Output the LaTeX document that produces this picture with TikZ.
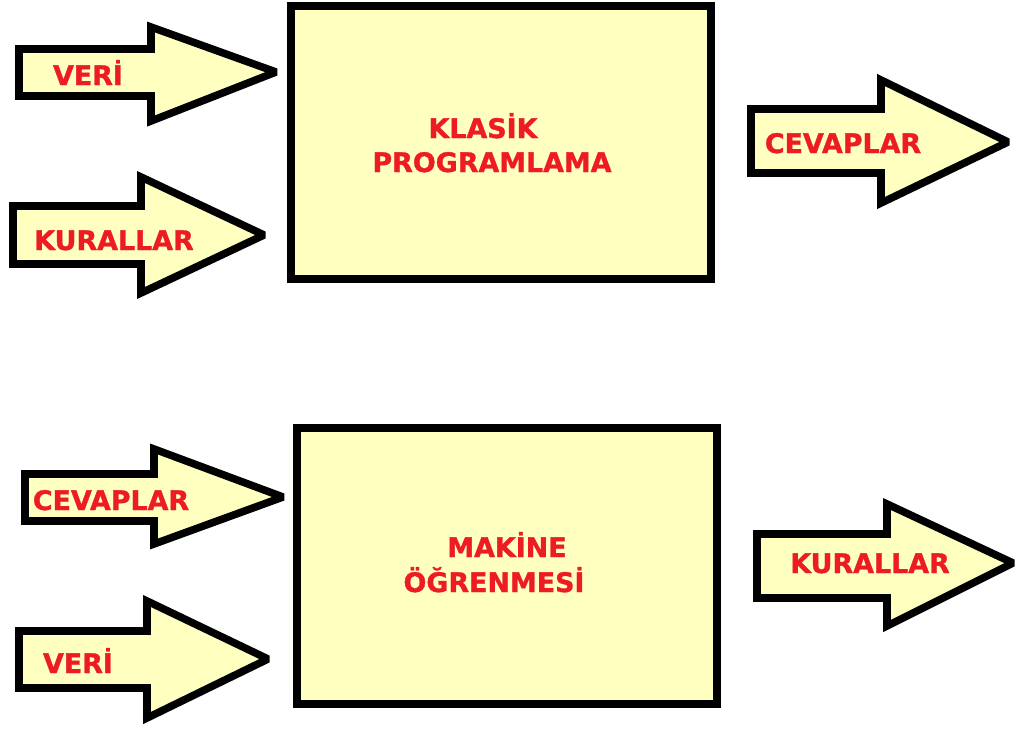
\documentclass[tikz,border=0pt]{standalone}
\usepackage{fontspec}
\setmainfont{DejaVu Sans}
\newfontfamily\labelfont[FakeBold=1.2]{DejaVu Sans Bold}
\definecolor{boxyellow}{RGB}{255,255,192}
\definecolor{labelred}{RGB}{237,28,36}
\tikzset{
  blockarrow/.style={draw=black, fill=boxyellow, line width=4.3pt, line join=miter, miter limit=2},
  bigbox/.style={draw=black, fill=boxyellow, line width=4.3pt, inner sep=0pt},
  redlabel/.style={text=labelred, font=\labelfont\fontsize{15.3}{18}\selectfont, anchor=base, inner sep=0pt}
}
\begin{document}
\begin{tikzpicture}[x=0.02cm, y=-0.02cm]
\useasboundingbox (0,0) rectangle (1019,728);

\node[bigbox, minimum width=8.4cm, minimum height=5.46cm] (Klasik Box) at (501,142.5) {};
\node[redlabel] (Klasik 1) at (483,138) {KLASİK};
\node[redlabel] (Klasik 2) at (492,172) {PROGRAMLAMA};

\draw[blockarrow] (19,49) -- (151,49) -- (151,27) -- (276,72) -- (151,121) -- (151,96) -- (19,96) -- cycle;
\node[redlabel] (Veri 1) at (88,85) {VERİ};
\draw[blockarrow] (13,206) -- (141,206) -- (141,177) -- (264,235) -- (141,293) -- (141,264) -- (13,264) -- cycle;
\node[redlabel] (Kurallar 1) at (114,250) {KURALLAR};
\draw[blockarrow] (751,109) -- (881,109) -- (881,80) -- (1008,142) -- (881,203) -- (881,173) -- (751,173) -- cycle;
\node[redlabel] (Cevaplar 1) at (843,153) {CEVAPLAR};

\node[bigbox, minimum width=8.4cm, minimum height=5.52cm] (Makine Box) at (507,566) {};
\node[redlabel] (Makine 1) at (507,557) {MAKİNE};
\node[redlabel] (Makine 2) at (494,592) {ÖĞRENMESİ};

\draw[blockarrow] (25,474) -- (154,474) -- (154,449) -- (283,497) -- (154,544) -- (154,521) -- (25,521) -- cycle;
\node[redlabel] (Cevaplar 2) at (111,510) {CEVAPLAR};
\draw[blockarrow] (19,631) -- (147,631) -- (147,601) -- (268,659) -- (147,718) -- (147,688) -- (19,688) -- cycle;
\node[redlabel] (Veri 2) at (78,673) {VERİ};
\draw[blockarrow] (757,534) -- (887,534) -- (887,504) -- (1013,563) -- (887,626) -- (887,598) -- (757,598) -- cycle;
\node[redlabel] (Kurallar 2) at (870,573) {KURALLAR};
\end{tikzpicture}
\end{document}
